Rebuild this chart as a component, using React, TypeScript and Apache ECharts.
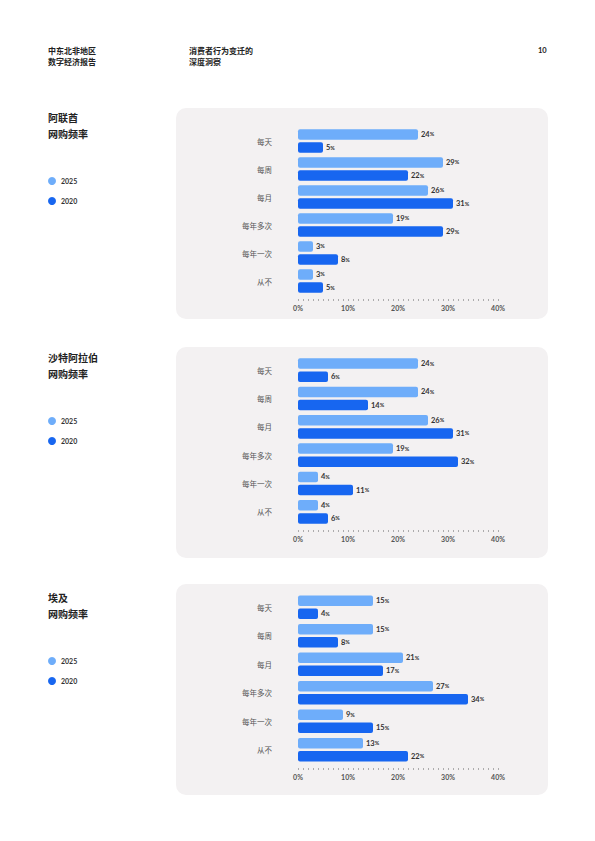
import * as React from "react";
import * as echarts from "echarts";

const categories = ["每天", "每周", "每月", "每年多次", "每年一次", "从不"];
const seriesNames = ["2025", "2020"];
const countries = ["阿联酋", "沙特阿拉伯", "埃及"];
const uae2025 = [24, 29, 26, 19, 3, 3];
const uae2020 = [5, 22, 31, 29, 8, 5];
const ksa2025 = [24, 24, 26, 19, 4, 4];
const ksa2020 = [6, 14, 31, 32, 11, 6];
const egy2025 = [15, 15, 21, 27, 9, 13];
const egy2020 = [4, 8, 17, 34, 15, 22];
const xMax = 40;
const xStep = 10;

const LIGHT = "#6eadfa";
const DARK = "#1766f0";
const CJK = "'Noto Sans CJK SC', 'Noto Sans', sans-serif";
const NUM = "Lato, 'Noto Sans CJK SC', sans-serif";

// layout of each block: panel top, grid top, grid height, title y, legend y
const blocks = [
  { panelTop: 108, gridTop: 127, gridH: 168, titleY: 109, legendY: 177, a: uae2025, b: uae2020 },
  { panelTop: 347, gridTop: 356, gridH: 170, titleY: 349, legendY: 417, a: ksa2025, b: ksa2020 },
  { panelTop: 584, gridTop: 593, gridH: 171, titleY: 589, legendY: 657, a: egy2025, b: egy2020 },
];

export default function App() {
  const ref = React.useRef<HTMLDivElement | null>(null);

  React.useEffect(() => {
    if (!ref.current) return;
    const chart = echarts.init(ref.current, undefined, { renderer: "svg" });

    const labelOpt = {
      show: true,
      position: "right" as const,
      distance: 3,
      formatter: (p: any) => `{v|${p.value}}{p|%}`,
      rich: {
        v: { fontSize: 7.5, fontWeight: "bold" as const, color: "#333", fontFamily: NUM },
        p: { fontSize: 5.5, fontWeight: "bold" as const, color: "#333", fontFamily: NUM },
      },
    };

    const graphic: any[] = [
      { type: "text", left: 48, top: 45, style: { text: "中东北非地区\n数字经济报告", fontSize: 8, fontWeight: "bold", fill: "#222", lineHeight: 11, fontFamily: CJK } },
      { type: "text", left: 189, top: 45, style: { text: "消费者行为变迁的\n深度洞察", fontSize: 8, fontWeight: "bold", fill: "#222", lineHeight: 11, fontFamily: CJK } },
      { type: "text", left: 538, top: 46.5, style: { text: "10", fontSize: 7.5, fontWeight: "bold", fill: "#222", fontFamily: NUM } },
    ];

    blocks.forEach((b, i) => {
      graphic.push({
        type: "rect",
        z: -10,
        shape: { x: 176, y: b.panelTop, width: 372, height: 211, r: 10 },
        style: { fill: "#f3f1f2" },
      });
      graphic.push({
        type: "text",
        left: 48,
        top: b.titleY,
        style: { text: `${countries[i]}\n网购频率`, fontSize: 10, fontWeight: "bold", fill: "#222", lineHeight: 16, fontFamily: CJK },
      });
    });

    const option: echarts.EChartsOption = {
      animation: false,
      backgroundColor: "#ffffff",
      graphic,
      legend: blocks.map((b) => ({
        data: seriesNames,
        orient: "vertical",
        left: 48,
        top: b.legendY,
        padding: 0,
        icon: "circle",
        itemWidth: 8,
        itemHeight: 8,
        itemGap: 12,
        selectedMode: false,
        textStyle: { fontSize: 7, color: "#333", fontFamily: NUM, fontWeight: "bold" },
      })),
      grid: blocks.map((b) => ({ left: 298, width: 200, top: b.gridTop, height: b.gridH })),
      xAxis: blocks.map((_, i) => ({
        type: "value",
        gridIndex: i,
        min: 0,
        max: xMax,
        interval: xStep,
        offset: 4,
        splitLine: { show: false },
        axisLine: { show: false },
        axisTick: { show: true, length: 2, lineStyle: { color: "#999", width: 0.8 } },
        minorTick: { show: true, splitNumber: 10, length: 2, lineStyle: { color: "#999", width: 0.8 } },
        axisLabel: {
          fontSize: 7,
          color: "#555",
          fontWeight: "bold",
          fontFamily: NUM,
          margin: 5,
          formatter: (v: number) => `${v}%`,
        },
      })),
      yAxis: blocks.map((_, i) => ({
        type: "category",
        gridIndex: i,
        data: categories,
        inverse: true,
        axisLine: { show: false },
        axisTick: { show: false },
        axisLabel: { fontSize: 7.5, color: "#555", margin: 26, fontFamily: CJK },
      })),
      series: blocks.flatMap((b, i) => [
        {
          name: seriesNames[0],
          type: "bar" as const,
          xAxisIndex: i,
          yAxisIndex: i,
          data: b.a,
          barWidth: 10.5,
          barGap: "25%",
          itemStyle: { color: LIGHT, borderRadius: 2 },
          label: labelOpt,
        },
        {
          name: seriesNames[1],
          type: "bar" as const,
          xAxisIndex: i,
          yAxisIndex: i,
          data: b.b,
          barWidth: 10.5,
          barGap: "25%",
          itemStyle: { color: DARK, borderRadius: 2 },
          label: labelOpt,
        },
      ]),
      tooltip: { show: false },
    };
    chart.setOption(option);
    return () => chart.dispose();
  }, []);

  return <div ref={ref} style={{ position: "absolute", left: 0, top: 0, width: 595, height: 841 }} />;
}
